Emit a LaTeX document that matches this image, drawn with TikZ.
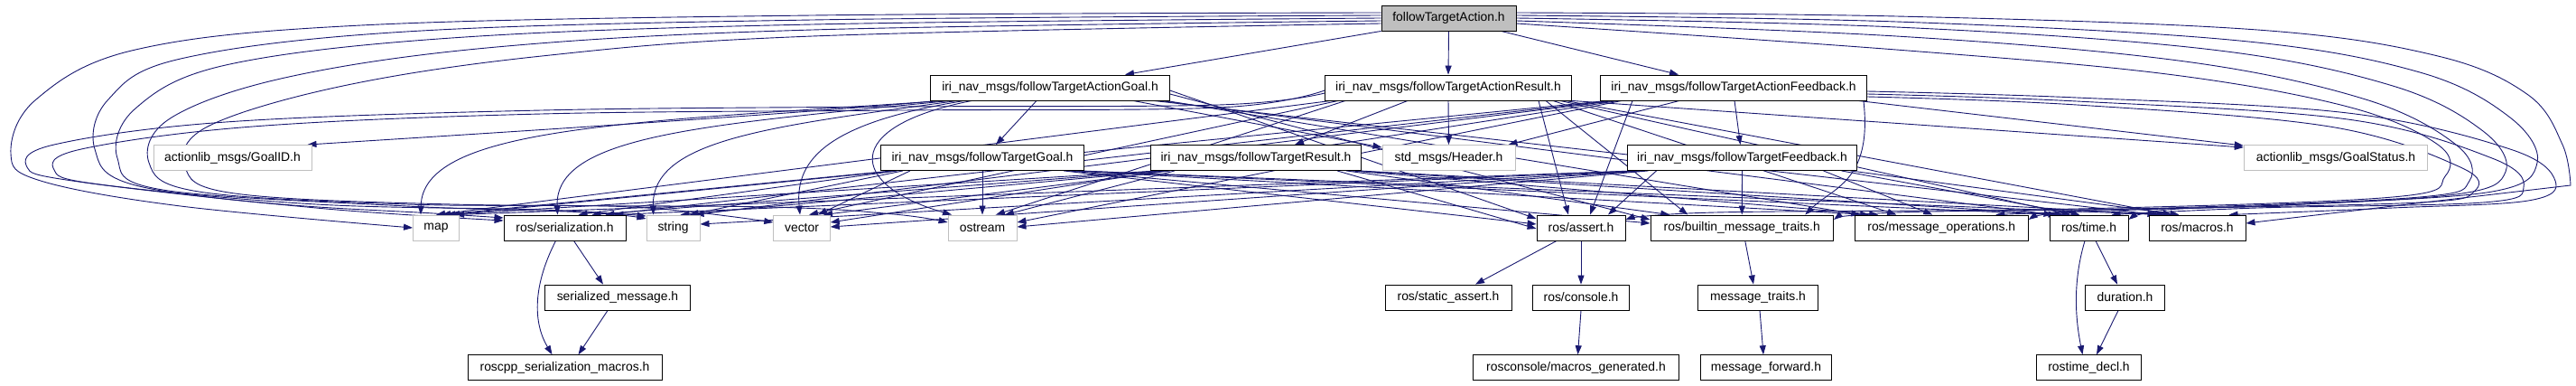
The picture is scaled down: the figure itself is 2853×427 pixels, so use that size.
\documentclass[tikz,border=0pt]{standalone}
\usepackage{fontspec}
\setmainfont{Liberation Sans}
\usetikzlibrary{arrows.meta,backgrounds}
\definecolor{edgec}{HTML}{191970}
\definecolor{rootfill}{HTML}{BFBFBF}
\definecolor{extb}{HTML}{BFBFBF}
\begin{document}
\begin{tikzpicture}[x=1pt,y=-1pt,
  box/.style={draw=black, line width=0.9pt, fill=white, rectangle, minimum height=28pt, inner sep=0pt, font=\fontsize{13.9}{16}\selectfont, text=black},
  extbox/.style={box, draw=extb},
  rootbox/.style={box, fill=rootfill},
  e/.style={draw=edgec, line width=0.9pt, -{Triangle[length=10pt,width=7pt]}},
  sm/.style={smooth, tension=0.6}
]
\useasboundingbox (0,0) rectangle (2853,427);
% row 0
\node[rootbox, minimum width=149pt] (fta) at (1604.5,20) {followTargetAction.h};
% row 1
\node[box, minimum width=264.5pt] (agoal) at (1163,97) {iri\_nav\_msgs/followTargetActionGoal.h};
\node[box, minimum width=273pt] (ares) at (1604,97) {iri\_nav\_msgs/followTargetActionResult.h};
\node[box, minimum width=295pt] (afb) at (1920,97) {iri\_nav\_msgs/followTargetActionFeedback.h};
% row 2
\node[extbox, minimum width=175pt] (goalid) at (257.5,174.5) {actionlib\_msgs/GoalID.h};
\node[box, minimum width=224.6pt] (fgoal) at (1088,174.5) {iri\_nav\_msgs/followTargetGoal.h};
\node[box, minimum width=233pt] (fres) at (1391,174.5) {iri\_nav\_msgs/followTargetResult.h};
\node[extbox, minimum width=147pt] (header) at (1604.5,174.5) {std\_msgs/Header.h};
\node[box, minimum width=254.4pt] (ffb) at (1929.5,174.5) {iri\_nav\_msgs/followTargetFeedback.h};
\node[extbox, minimum width=203.6pt] (gstatus) at (2587,174.5) {actionlib\_msgs/GoalStatus.h};
% row 3
\node[extbox, minimum width=51pt] (map) at (483,252) {map};
\node[box, minimum width=135pt] (ser) at (625.5,252) {ros/serialization.h};
\node[extbox, minimum width=59pt] (str) at (745.5,252) {string};
\node[extbox, minimum width=62.5pt] (vec) at (888,252) {vector};
\node[extbox, minimum width=76pt] (ost) at (1088,252) {ostream};
\node[box, minimum width=98pt] (assert) at (1751,252) {ros/assert.h};
\node[box, minimum width=202.5pt] (bmt) at (1929.25,252) {ros/builtin\_message\_traits.h};
\node[box, minimum width=192pt] (mops) at (2150.25,252) {ros/message\_operations.h};
\node[box, minimum width=87pt] (time) at (2313.5,252) {ros/time.h};
\node[box, minimum width=107pt] (macros) at (2433.5,252) {ros/macros.h};
% row 4
\node[box, minimum width=160.5pt] (smsg) at (684,329) {serialized\_message.h};
\node[box, minimum width=140pt] (sassert) at (1604,329) {ros/static\_assert.h};
\node[box, minimum width=106.5pt] (console) at (1751,329) {ros/console.h};
\node[box, minimum width=133pt] (mtraits) at (1947,329) {message\_traits.h};
\node[box, minimum width=87.4pt] (duration) at (2353.5,329) {duration.h};
% row 5
\node[box, minimum width=215pt] (rsm) at (625.5,406.7) {roscpp\_serialization\_macros.h};
\node[box, minimum width=228pt] (rmg) at (1745.5,406.7) {rosconsole/macros\_generated.h};
\node[box, minimum width=145.6pt] (mfwd) at (1956,406.7) {message\_forward.h};
\node[box, minimum width=115.7pt] (rdecl) at (2313.5,406.7) {rostime\_decl.h};

\begin{pgfonlayer}{background}
% ---------- followTargetAction.h
\draw[e] (fta.south west) -- ([xshift=83pt]agoal.north);
\draw[e] (fta.south) -- (ares.north);
\draw[e] ([xshift=58pt]fta.south) -- ([xshift=-61pt]afb.north);
% left loops
\draw[e] plot[sm] coordinates {([yshift=6pt]fta.west) (900,17) (400,28) (150,55) (40,110) (12,170) (45,200) (200,228) (map.west)};
\draw[e] plot[sm] coordinates {([yshift=3pt]fta.west) (900,22) (450,35) (200,65) (120,110) (105,165) (150,205) (350,230) ([yshift=8pt]ser.west)};
\draw[e] plot[sm] coordinates {([yshift=0pt]fta.west) (900,27) (500,42) (250,72) (150,120) (130,175) (180,210) (450,228) (650,235) ([yshift=10pt]str.west)};
\draw[e] plot[sm] coordinates {([yshift=-3pt]fta.west) (900,33) (550,52) (320,85) (190,130) (165,180) (220,212) (450,226) (700,229) ([yshift=6pt]vec.west)};
\draw[e] plot[sm] coordinates {([yshift=-6pt]fta.west) (900,40) (600,62) (380,95) (230,140) (205,185) (260,214) (500,226) (850,229) (990,237) ([yshift=6pt]ost.west)};
% right loops
\draw[e] plot[sm] coordinates {([yshift=6pt]fta.east) (2100,18) (2500,33) (2700,62) (2800,105) (2838,160) (2847,205)} -- ([yshift=5pt]macros.east);
\draw[e] plot[sm] coordinates {([yshift=3pt]fta.east) (2100,24) (2480,45) (2680,80) (2780,130) (2810,180) (2760,212) (2550,226) (2400,232) ([yshift=9pt]time.east)};
\draw[e] plot[sm] coordinates {([yshift=0pt]fta.east) (2100,30) (2450,55) (2650,95) (2750,145) (2775,190) (2720,215) (2500,228) (2300,233) ([yshift=9pt]mops.east)};
\draw[e] plot[sm] coordinates {([yshift=-3pt]fta.east) (2100,40) (2420,68) (2620,110) (2720,160) (2735,200) (2680,218) (2400,230) (2100,235) ([yshift=9pt]bmt.east)};
\draw[e] plot[sm] coordinates {([yshift=-6pt]fta.east) (2100,55) (2400,82) (2600,118) (2700,160) (2708,195) (2650,218) (2300,231) (1900,235) ([yshift=9pt]assert.east)};
% ---------- ActionGoal
\draw[e] ([xshift=8pt]agoal.south west) .. controls (900,125) and (500,150) .. ([xshift=-5pt]goalid.north east);
\draw[e] ([xshift=-15pt]agoal.south) -- ([xshift=15pt]fgoal.north);
\draw[e] ([xshift=92pt]agoal.south) -- ([yshift=-3pt]header.north west);
\draw[e] ([xshift=15pt]agoal.south west) .. controls (700,135) and (468,140) .. ([xshift=-17pt]map.north);
\draw[e] ([xshift=22pt]agoal.south west) .. controls (780,138) and (614,150) .. ([xshift=-8pt]ser.north);
\draw[e] ([xshift=30pt]agoal.south west) .. controls (850,140) and (722,155) .. ([xshift=-22pt]str.north);
\draw[e] ([xshift=38pt]agoal.south west) .. controls (920,135) and (880,175) .. ([xshift=-2pt]vec.north);
\draw[e] ([xshift=46pt]agoal.south west) .. controls (930,140) and (940,205) .. ([xshift=-34pt]ost.north);
\draw[e] ([yshift=-3pt]agoal.east) -- ([yshift=10pt]assert.west);
\draw[e] ([yshift=-7pt]agoal.east) -- ([yshift=9pt]bmt.west);
\draw[e] ([xshift=-4pt]agoal.south east) -- ([xshift=-90pt]mops.north);
\draw[e] ([xshift=-11pt]agoal.south east) -- ([xshift=-40pt]time.north);
\draw[e] ([xshift=-18pt]agoal.south east) -- ([xshift=-45pt]macros.north);
% ---------- ActionResult
\draw[e] ([xshift=-45pt]ares.south) -- ([xshift=43pt]fres.north);
\draw[e] (ares.south) -- (header.north);
\draw[e] (ares.south east) -- ([yshift=-3pt]gstatus.north west);
\draw[e] plot[sm] coordinates {([yshift=-6pt]ares.west) (1350,116) (1000,118) (600,122) (250,135) (60,160) (30,185) (80,200) (300,225) (480,236) ([yshift=11pt]ser.west)};
\draw[e] plot[sm] coordinates {([yshift=-3pt]ares.west) (1350,119) (1000,122) (600,126) (280,140) (90,165) (60,188) (110,204) (350,226) (600,232) ([yshift=13pt]str.west)};
\draw[e] ([xshift=-130pt]ares.south) -- (map.north);
\draw[e] ([xshift=-122pt]ares.south) -- ([xshift=8pt]vec.north);
\draw[e] ([xshift=-114pt]ares.south) -- ([xshift=15pt]ost.north);
\draw[e] ([xshift=100pt]ares.south) -- ([xshift=-14pt]assert.north);
\draw[e] ([xshift=108pt]ares.south) -- ([xshift=-60pt]bmt.north);
\draw[e] ([xshift=116pt]ares.south) -- ([xshift=-50pt]mops.north);
\draw[e] ([xshift=124pt]ares.south) -- ([xshift=-20pt]time.north);
\draw[e] ([xshift=130pt]ares.south) -- ([xshift=-28pt]macros.north);
% ---------- ActionFeedback
\draw[e] ([xshift=1pt]afb.south) -- ([xshift=-2pt]ffb.north);
\draw[e] ([xshift=-60pt]afb.south) -- ([xshift=-8pt]header.north east);
\draw[e] ([xshift=-10pt]afb.south east) -- ([yshift=-1pt]gstatus.north west);
\draw[e] ([xshift=-140pt]afb.south) -- ([xshift=16pt]map.north);
\draw[e] ([xshift=-136pt]afb.south) -- ([xshift=45pt]ser.north);
\draw[e] ([xshift=-132pt]afb.south) -- ([xshift=24pt]str.north);
\draw[e] ([xshift=-128pt]afb.south) -- ([yshift=6pt]vec.east);
\draw[e] ([xshift=-124pt]afb.south) -- ([yshift=6pt]ost.east);
\draw[e] ([xshift=-112pt]afb.south) -- ([xshift=10pt]assert.north);
\draw[e] ([xshift=-4pt]afb.south east) .. controls +(10,90) and +(30,-30) .. ([xshift=70pt]bmt.north);
\draw[e] plot[sm] coordinates {([yshift=-4pt]afb.east) (2300,108) (2600,125) (2780,165) (2830,200) (2800,222) (2650,230) ([xshift=35pt]macros.north)};
\draw[e] plot[sm] coordinates {([yshift=-7pt]afb.east) (2300,112) (2600,132) (2760,175) (2795,207) (2750,224) (2500,230) ([xshift=25pt]time.north)};
\draw[e] plot[sm] coordinates {([yshift=-10pt]afb.east) (2300,116) (2580,140) (2725,185) (2740,212) (2680,224) (2400,231) ([xshift=60pt]mops.north)};
% ---------- followTargetGoal
\draw[e] ([xshift=-100pt]fgoal.south) -- ([xshift=6pt]map.north);
\draw[e] ([xshift=-95pt]fgoal.south) -- ([xshift=15pt]ser.north);
\draw[e] ([xshift=-88pt]fgoal.south) -- ([xshift=18pt]str.north);
\draw[e] ([xshift=-80pt]fgoal.south) -- ([xshift=18pt]vec.north);
\draw[e] (fgoal.south) -- (ost.north);
\draw[e] ([xshift=90pt]fgoal.south) -- ([yshift=4pt]assert.west);
\draw[e] ([xshift=95pt]fgoal.south) -- ([yshift=5pt]bmt.west);
\draw[e] ([xshift=100pt]fgoal.south) -- ([xshift=-80pt]mops.north);
\draw[e] ([xshift=105pt]fgoal.south) -- ([xshift=-35pt]time.north);
\draw[e] ([xshift=108pt]fgoal.south) -- ([xshift=-40pt]macros.north);
% ---------- followTargetResult
\draw[e] ([xshift=-110pt]fres.south) -- ([xshift=11pt]map.north);
\draw[e] ([xshift=-105pt]fres.south) -- ([xshift=30pt]ser.north);
\draw[e] ([xshift=-100pt]fres.south) -- ([xshift=8pt]str.north);
\draw[e] ([xshift=-95pt]fres.south) -- ([xshift=24pt]vec.north);
\draw[e] ([xshift=-90pt]fres.south) -- ([xshift=25pt]ost.north);
\draw[e] ([xshift=90pt]fres.south) -- ([yshift=-1pt]assert.west);
\draw[e] ([xshift=100pt]fres.south) -- ([xshift=-80pt]bmt.north);
\draw[e] ([xshift=106pt]fres.south) -- ([xshift=-70pt]mops.north);
\draw[e] ([xshift=110pt]fres.south) -- ([xshift=-28pt]time.north);
\draw[e] ([xshift=114pt]fres.south) -- ([xshift=-35pt]macros.north);
% ---------- followTargetFeedback
\draw[e] ([xshift=-120pt]ffb.south) -- ([xshift=21pt]map.north);
\draw[e] ([xshift=-116pt]ffb.south) -- ([xshift=55pt]ser.north);
\draw[e] ([xshift=-112pt]ffb.south) -- ([yshift=4pt]str.east);
\draw[e] ([xshift=-108pt]ffb.south) -- ([yshift=1pt]vec.east);
\draw[e] ([xshift=-104pt]ffb.south) -- ([yshift=1pt]ost.east);
\draw[e] ([xshift=-95pt]ffb.south) -- ([xshift=30pt]assert.north);
\draw[e] (ffb.south) -- (bmt.north);
\draw[e] ([xshift=90pt]ffb.south) -- ([xshift=-10pt]mops.north);
\draw[e] ([xshift=110pt]ffb.south) -- ([xshift=-10pt]time.north);
\draw[e] ([xshift=120pt]ffb.south) -- ([xshift=-20pt]macros.north);
% ---------- lower part
\draw[e] ([xshift=10pt]ser.south) -- ([xshift=-16pt]smsg.north);
\draw[e] ([xshift=-10pt]ser.south) .. controls (588,320) and (592,360) .. ([xshift=-14pt]rsm.north);
\draw[e] ([xshift=-11pt]smsg.south) -- ([xshift=15pt]rsm.north);
\draw[e] ([xshift=-27pt]assert.south) -- ([xshift=30pt]sassert.north);
\draw[e] (assert.south) -- (console.north);
\draw[e] (console.south) -- ([xshift=2pt]rmg.north);
\draw[e] ([xshift=3.5pt]bmt.south) -- ([xshift=-5pt]mtraits.north);
\draw[e] ([xshift=2pt]mtraits.south) -- ([xshift=-3pt]mfwd.north);
\draw[e] ([xshift=7.5pt]time.south) -- ([xshift=-8.5pt]duration.north);
\draw[e] ([xshift=-4.5pt]time.south) .. controls (2296,310) and (2298,350) .. ([xshift=-7pt]rdecl.north);
\draw[e] ([xshift=-7.5pt]duration.south) -- ([xshift=8.5pt]rdecl.north);
\end{pgfonlayer}
\end{tikzpicture}
\end{document}
